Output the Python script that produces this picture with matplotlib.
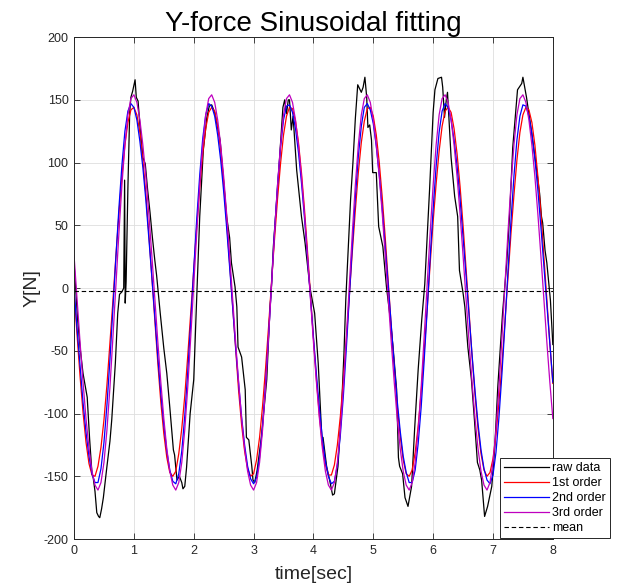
import numpy as np
import matplotlib
matplotlib.use('Agg')
import matplotlib.pyplot as plt

raw_time = [0.00, 0.03, 0.06, 0.10, 0.15, 0.22, 0.26, 0.30, 0.32, 0.35, 0.38, 0.41, 0.43, 0.46, 0.49,
            0.55, 0.60, 0.63, 0.69, 0.73, 0.76, 0.80, 0.83, 0.845, 0.855, 0.87, 0.90, 0.93, 0.95, 0.98,
            1.02, 1.04, 1.07, 1.10, 1.15, 1.19, 1.23, 1.27, 1.31, 1.35, 1.38, 1.44, 1.50, 1.55, 1.60,
            1.66, 1.68, 1.72, 1.76, 1.80, 1.82, 1.85, 1.88, 1.94, 2.00, 2.04, 2.10, 2.16, 2.22, 2.26,
            2.30, 2.35, 2.44, 2.50, 2.55, 2.60, 2.63, 2.69, 2.72, 2.74, 2.80, 2.86, 2.88, 2.92, 2.97,
            2.99, 3.02, 3.06, 3.13, 3.22, 3.27, 3.30, 3.33, 3.41, 3.49, 3.52, 3.55, 3.58, 3.60, 3.63,
            3.66, 3.72, 3.80, 3.86, 3.94, 4.02, 4.08, 4.14, 4.16, 4.22, 4.27, 4.32, 4.35, 4.41, 4.47,
            4.51, 4.54, 4.58, 4.62, 4.66, 4.70, 4.74, 4.80, 4.83, 4.86, 4.89, 4.91, 4.94, 4.97, 4.99,
            5.05, 5.09, 5.16, 5.22, 5.28, 5.33, 5.39, 5.42, 5.44, 5.49, 5.53, 5.58, 5.64, 5.69, 5.75,
            5.81, 5.86, 5.94, 6.00, 6.03, 6.08, 6.14, 6.16, 6.19, 6.22, 6.24, 6.30, 6.36, 6.41, 6.44,
            6.50, 6.53, 6.58, 6.64, 6.69, 6.74, 6.78, 6.81, 6.86, 6.91, 6.98, 7.03, 7.08, 7.16, 7.23,
            7.28, 7.33, 7.41, 7.48, 7.50, 7.56, 7.64, 7.73, 7.78, 7.81, 7.83, 7.87, 7.90, 7.93, 7.96,
            8.00]
raw_force = [20, -2, -25, -47, -68, -87, -120, -148, -151, -162, -179, -182, -183, -176, -167,
             -142, -122, -105, -60, -20, -5, -3, 0, 86, -12, 5, 80, 140, 152, 157,
             166, 152, 149, 130, 104, 99, 78, 60, 40, 22, 10, -20, -48, -68, -95,
             -129, -133, -153, -150, -155, -160, -158, -143, -100, -73, -20, 57, 110, 136, 145,
             146, 140, 118, 85, 57, 40, 20, 1, -15, -47, -55, -81, -119, -121, -142,
             -153, -155, -145, -119, -73, -20, 2, 33, 86, 144, 150, 139, 150, 150, 126,
             137, 94, 57, 36, 1, -20, -60, -119, -119, -142, -153, -165, -164, -142, -95,
             -52, -10, 30, 70, 100, 135, 162, 156, 160, 168, 152, 128, 130, 118, 92,
             92, 49, 33, 1, -23, -47, -81, -135, -142, -148, -167, -174, -158, -113, -65,
             -25, 3, 78, 140, 158, 167, 168, 160, 136, 150, 156, 104, 73, 57, 14,
             -4, -15, -47, -73, -105, -139, -145, -153, -182, -174, -158, -127, -79, -20, 20,
             60, 112, 158, 163, 168, 152, 126, 94, 75, 57, 52, 30, 20, 5, -10,
             -45]
mean_force = -2.5

# fitted curves, sampled every 0.05 s from 0 to 8 s
fit_time = np.linspace(0, 8, 161)

fit1 = [-2, -37, -70, -99, -123, -140, -149, -150, -142, -127, -105, -77, -44, -10, 26, 59, 89, 114, 132, 142,
        144, 138, 124, 102, 75, 43, 9, -26, -60, -91, -116, -135, -147, -150, -146, -132, -112, -86, -54, -20,
        15, 49, 80, 107, 127, 140, 144, 141, 129, 110, 84, 53, 19, -16, -50, -82, -109, -130, -144, -150,
        -148, -137, -119, -94, -64, -31, 5, 39, 71, 99, 122, 137, 144, 143, 133, 116, 92, 63, 30, -5,
        -40, -73, -102, -125, -141, -149, -149, -141, -125, -102, -73, -41, -6, 29, 62, 92, 116, 133, 143, 144,
        137, 122, 100, 72, 40, 5, -30, -63, -94, -118, -137, -148, -150, -145, -131, -110, -83, -51, -17, 19,
        53, 83, 109, 129, 141, 144, 140, 127, 107, 81, 50, 16, -19, -54, -85, -112, -132, -145, -150, -147,
        -136, -117, -91, -61, -27, 8, 43, 74, 102, 124, 138, 144, 142, 132, 114, 89, 60, 26, -9, -44,
        -76]

fit2 = [0, -32, -62, -91, -115, -134, -148, -155, -155, -144, -123, -93, -57, -16, 25, 64, 98, 125, 141, 147,
        144, 134, 117, 96, 70, 40, 9, -23, -55, -84, -109, -130, -145, -154, -156, -148, -130, -102, -67, -27,
        15, 55, 90, 119, 138, 147, 145, 137, 122, 102, 77, 48, 17, -15, -47, -76, -103, -125, -142, -152,
        -156, -151, -135, -110, -76, -38, 4, 45, 82, 112, 134, 145, 146, 140, 127, 108, 84, 56, 25, -7,
        -39, -69, -96, -120, -138, -150, -156, -154, -141, -117, -86, -48, -7, 34, 72, 105, 129, 144, 147, 142,
        131, 113, 90, 63, 33, 2, -30, -61, -90, -114, -134, -147, -155, -155, -145, -124, -95, -58, -18, 24,
        63, 97, 124, 141, 147, 144, 134, 118, 97, 71, 41, 10, -22, -53, -82, -108, -129, -144, -153, -156,
        -149, -131, -103, -68, -29, 13, 53, 89, 118, 137, 146, 145, 137, 123, 103, 78, 49, 18, -14, -45,
        -75]

fit3 = [26, -9, -43, -75, -104, -128, -146, -157, -161, -155, -139, -113, -79, -39, 3, 44, 82, 114, 138, 151, 154, 148, 134, 114, 89, 59,
        26, -9, -43, -75, -104, -128, -146, -157, -161, -155, -139, -113, -79, -39, 3, 44, 82, 114, 138, 151, 154, 148, 134, 114, 89, 59,
        26, -9, -43, -75, -104, -128, -146, -157, -161, -155, -139, -113, -79, -39, 3, 44, 82, 114, 138, 151, 154, 148, 134, 114, 89, 59,
        26, -9, -43, -75, -104, -128, -146, -157, -161, -155, -139, -113, -79, -39, 3, 44, 82, 114, 138, 151, 154, 148, 134, 114, 89, 59,
        26, -9, -43, -75, -104, -128, -146, -157, -161, -155, -139, -113, -79, -39, 3, 44, 82, 114, 138, 151, 154, 148, 134, 114, 89, 59,
        26, -9, -43, -75, -104, -128, -146, -157, -161, -155, -139, -113, -79, -39, 3, 44, 82, 114, 138, 151, 154, 148, 134, 114, 89, 59,
        26, -9, -43, -75, -104]

plt.rcParams['font.family'] = ['Liberation Sans', 'DejaVu Sans']
plt.rcParams['axes.unicode_minus'] = False
dark = '#262626'

fig = plt.figure(figsize=(6.17, 5.85), dpi=100)
ax = fig.add_axes([0.120, 0.0786, 0.776, 0.858])
ax.plot(raw_time, raw_force, color='k', lw=0.9, label='raw data')
ax.plot(fit_time, fit1, color='r', lw=0.9, label='1st order')
ax.plot(fit_time, fit2, color='b', lw=0.9, label='2nd order')
ax.plot(fit_time, fit3, color='m', lw=0.9, label='3rd order')
ax.axhline(mean_force, color='k', ls='--', lw=0.8, dashes=(4, 2.5), label='mean')

ax.set_xlim(0, 8)
ax.set_ylim(-200, 200)
ax.set_xticks(range(0, 9))
ax.set_yticks(range(-200, 201, 50))
ax.grid(True, color='#dedede', lw=0.6)
ax.set_axisbelow(True)
ax.tick_params(direction='in', top=True, right=True, length=4, width=0.6,
               colors=dark, labelsize=9, pad=4)
for s in ax.spines.values():
    s.set_color(dark)
    s.set_linewidth(0.7)

ax.set_title('Y-force Sinusoidal fitting', fontsize=20, pad=4.5, color='k')
ax.set_xlabel('time[sec]', fontsize=14, labelpad=7, color=dark)
ax.set_ylabel('Y[N]', fontsize=14, labelpad=2, color=dark)

# legend sits partly outside the axes, like the original
leg = ax.legend(loc='lower left', bbox_to_anchor=(0.810, 0.080), bbox_transform=fig.transFigure,
                borderaxespad=0, fontsize=9, handlelength=3.6, handletextpad=0.3,
                labelspacing=0.25, borderpad=0.3, fancybox=False, framealpha=1)
leg.get_frame().set_edgecolor(dark)
leg.get_frame().set_linewidth(0.7)

fig.savefig('out.png')
